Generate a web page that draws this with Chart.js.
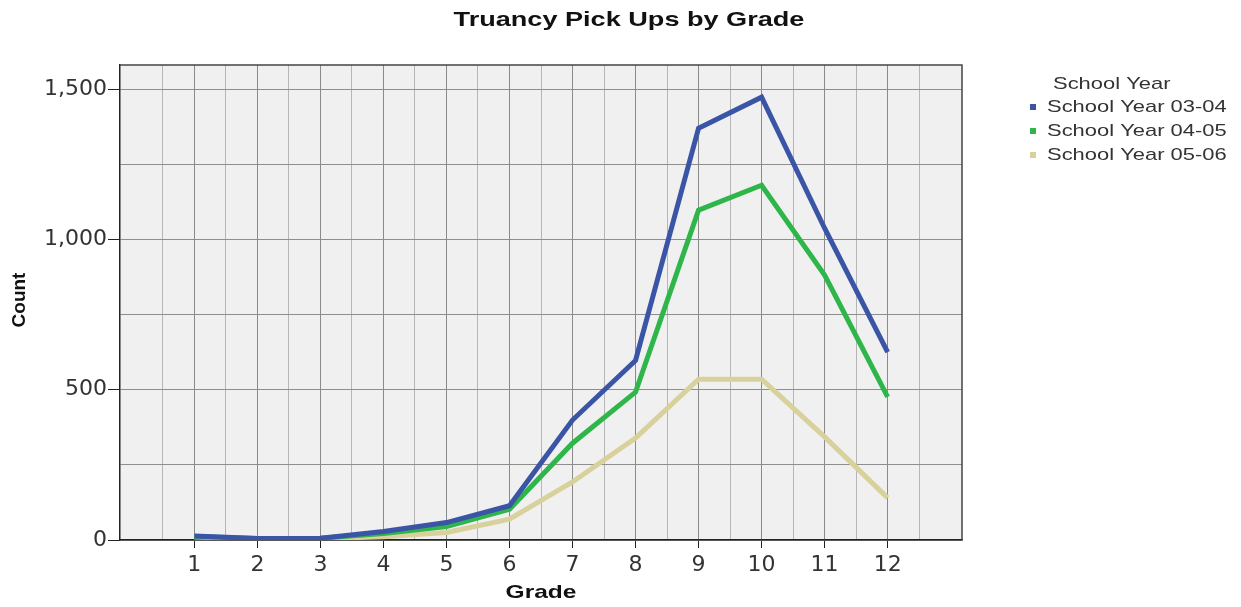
<!DOCTYPE html>
<html>
<head>
<meta charset="utf-8">
<script src="https://cdn.jsdelivr.net/npm/chart.js@4"></script>
<style>
  body { margin: 0; background: #fff; }
  #wrap { width: 1241px; height: 607px; }
</style>
</head>
<body>
<div id="wrap"><canvas id="chartTruancy"></canvas></div>
<script>
const grades = [1, 2, 3, 4, 5, 6, 7, 8, 9, 10, 11, 12];
const year0304 = [13, 5, 6, 28, 58, 114, 399, 597, 1370, 1473, 1037, 625];
const year0405 = [12, 5, 6, 22, 45, 102, 322, 492, 1097, 1180, 881, 476];
const year0506 = [10, 4, 4, 11, 25, 69, 193, 339, 535, 535, 343, 140];
const seriesNames = ['School Year 03-04', 'School Year 04-05', 'School Year 05-06'];
const yTicks = [0, 250, 500, 750, 1000, 1250, 1500];
const xTicks = [0.5, 1, 1.5, 2, 2.5, 3, 3.5, 4, 4.5, 5, 5.5, 6, 6.5, 7, 7.5, 8, 8.5, 9, 9.5, 10, 10.5, 11, 11.5, 12, 12.5];

const colors = ['#3b55a6', '#2fb64a', '#d8d19c'];
const font = '"Liberation Sans", Arial, sans-serif';
const tickFont = '"DejaVu Sans", sans-serif';
const stretch = 1.29; // the source picture is wider than tall

function points(vals) {
  return grades.map((g, i) => ({ x: g, y: vals[i] }));
}

function wideText(c, text, x, y) {
  c.save();
  c.translate(x, y);
  c.scale(stretch, 1);
  c.fillText(text, 0, 0);
  c.restore();
}

// background, frame and the texts around the plot
const decor = {
  id: 'decor',
  beforeDraw(chart) {
    const a = chart.chartArea, c = chart.ctx;
    c.save();
    c.fillStyle = '#f0f0f0';
    c.fillRect(a.left, a.top, a.right - a.left, a.bottom - a.top);
    c.restore();
  },
  afterDraw(chart) {
    const a = chart.chartArea, c = chart.ctx;
    c.save();
    c.strokeStyle = '#444';
    c.lineWidth = 1.5;
    c.beginPath();
    c.moveTo(a.left, a.top);
    c.lineTo(a.right, a.top);
    c.lineTo(a.right, a.bottom);
    c.stroke();

    c.fillStyle = '#111';
    c.textAlign = 'center';
    c.textBaseline = 'middle';
    c.font = 'bold 21px ' + font;
    wideText(c, 'Truancy Pick Ups by Grade', 629, 20);
    c.font = 'bold 19px ' + font;
    wideText(c, 'Grade', 541, 593);

    c.save();
    c.translate(20, 300);
    c.rotate(-Math.PI / 2);
    c.font = 'bold 19px ' + font;
    c.fillText('Count', 0, 0);
    c.restore();

    // legend
    c.textAlign = 'left';
    c.font = '17px ' + font;
    c.fillStyle = '#333';
    wideText(c, 'School Year', 1053, 84);
    chart.data.datasets.forEach((ds, i) => {
      const y = 107 + i * 24;
      c.fillStyle = ds.borderColor;
      c.fillRect(1030, y - 3, 6, 6);
      c.fillStyle = '#333';
      wideText(c, ds.label, 1047, y);
    });
    c.restore();
  }
};

new Chart(document.getElementById('chartTruancy'), {
  type: 'line',
  data: {
    datasets: [
      { label: seriesNames[0], data: points(year0304), borderColor: colors[0] },
      { label: seriesNames[1], data: points(year0405), borderColor: colors[1] },
      { label: seriesNames[2], data: points(year0506), borderColor: colors[2] }
    ]
  },
  options: {
    responsive: true,
    maintainAspectRatio: false,
    animation: false,
    layout: { padding: { top: 65, right: 279, left: 0, bottom: 0 } },
    elements: {
      line: { borderWidth: 5, tension: 0, borderCapStyle: 'butt' },
      point: { radius: 0, hoverRadius: 0 }
    },
    scales: {
      x: {
        type: 'linear',
        min: -0.18,
        max: 13.18,
        afterFit(scale) { scale.height = 67; },
        afterBuildTicks(scale) { scale.ticks = xTicks.map(v => ({ value: v })); },
        border: { display: true, color: '#222', width: 1.5 },
        grid: {
          color: ctx => (ctx.tick && Number.isInteger(ctx.tick.value)) ? '#8a8a8a' : '#b5b5b5',
          tickColor: ctx => (ctx.tick && Number.isInteger(ctx.tick.value)) ? '#222' : 'rgba(0,0,0,0)',
          tickLength: 8,
          lineWidth: 1
        },
        ticks: {
          autoSkip: false,
          maxRotation: 0,
          padding: 4,
          color: '#333',
          font: { family: tickFont, size: 22 },
          callback: v => Number.isInteger(v) ? String(v) : ''
        }
      },
      y: {
        min: 0,
        max: 1580,
        afterFit(scale) { scale.width = 120; },
        afterBuildTicks(scale) { scale.ticks = yTicks.map(v => ({ value: v })); },
        border: { display: true, color: '#222', width: 1.5 },
        grid: {
          color: '#8e8e8e',
          tickColor: ctx => (ctx.tick && ctx.tick.value % 500 === 0) ? '#222' : 'rgba(0,0,0,0)',
          tickLength: 12,
          lineWidth: 1
        },
        ticks: {
          padding: 1,
          color: '#333',
          font: { family: tickFont, size: 22 },
          callback: v => v % 500 === 0 ? v.toLocaleString('en-US') : ''
        }
      }
    },
    plugins: {
      legend: { display: false },
      title: { display: false },
      tooltip: { enabled: false }
    }
  },
  plugins: [decor]
});
</script>
</body>
</html>
